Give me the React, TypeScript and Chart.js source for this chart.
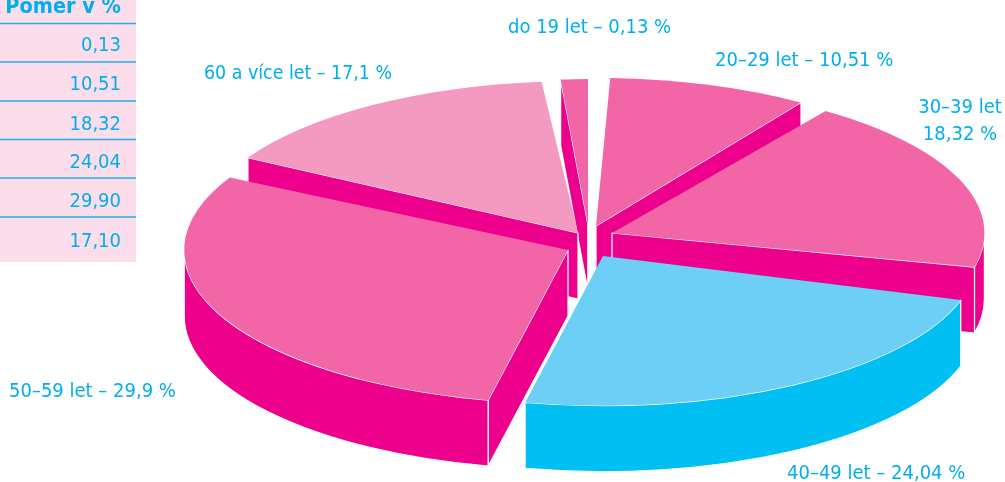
import React, { useEffect, useRef } from "react";
import { Chart, registerables } from "chart.js";

Chart.register(...registerables);

// Age groups with the percentages printed in the picture
const ageLabels = ["do 19 let – 0,13 %", "20–29 let – 10,51 %", ["30–39 let", "18,32 %"], "40–49 let – 24,04 %", "50–59 let – 29,9 %", "60 a více let – 17,1 %"];
const tableHeader = "Poměr v %";
const tableValues = ["0,13", "10,51", "18,32", "24,04", "29,90", "17,10"];
// Slice shares as drawn in the picture (the smallest slice is drawn larger than its value)
const drawnShares = [1.64, 9.22, 19.67, 24.14, 29.72, 15.61];

const topColors = ["#F266A7", "#F266A7", "#F266A7", "#6DCFF6", "#F266A7", "#F49AC1"];
const wallColors = ["#EC008C", "#EC008C", "#EC008C", "#00BFF3", "#EC008C", "#EC008C"];
const explodeX = [4, 12, 28, 19, -16, -6];
const explodeY = [-18, -17, -10, 13, 7, -10];
const radiusScale = [0.96, 0.975, 0.98, 0.985, 1.01, 1];
// Angular trim of each slice, in degrees, at its start and end
const trimStart = [0.5, 1.1, 0.7, 2, 0, 0.7];
const trimEnd = [1.1, 0.7, 1.9, 0, 0.8, 0.7];
const paintOrder = [0, 1, 5, 2, 4, 3];

const CX = 584, CY = 243, SQUASH = 0.4, DEPTH = 66, RADIUS = 380;
const TEXT = "#00AEEF";
const FONT = '"DejaVu Sans Condensed", "DejaVu Sans", sans-serif';

const labelPos: any[] = [
  { x: 508, y: 33, align: "left" },
  { x: 715, y: 66, align: "left" },
  { x: 960, y: 113, align: "center", lh: 27 },
  { x: 787, y: 479, align: "left" },
  { x: 9, y: 397, align: "left" },
  { x: 204, y: 79, align: "left", maxW: 188 },
];

const pie3d = {
  id: "pie3d",
  beforeDraw(chart: any) {
    const ctx = chart.ctx;
    ctx.save();
    ctx.fillStyle = "#FBDDEB";
    ctx.fillRect(0, 0, 136, 262);
    ctx.strokeStyle = "#1FB0EC";
    ctx.lineWidth = 1.5;
    [23.5, 62, 101, 139.5, 178, 217].forEach((y) => {
      ctx.beginPath();
      ctx.moveTo(0, y);
      ctx.lineTo(136, y);
      ctx.stroke();
    });
    ctx.fillStyle = TEXT;
    ctx.textAlign = "right";
    ctx.textBaseline = "alphabetic";
    ctx.font = `bold 21.5px ${FONT}`;
    ctx.fillText(tableHeader, 121, 13);
    ctx.font = `20px ${FONT}`;
    const base = [51, 90, 130, 168, 207, 247];
    tableValues.forEach((v, i) => ctx.fillText(v, 121, base[i]));
    ctx.restore();
  },
  beforeDatasetsDraw(chart: any) {
    const ctx = chart.ctx;
    const arcs = chart.getDatasetMeta(0).data;
    const deg = Math.PI / 180;
    const TAU = 2 * Math.PI;
    paintOrder.forEach((i) => {
      const a = arcs[i];
      const s0 = a.startAngle, e0 = a.endAngle;
      const s = s0 + trimStart[i] * deg, e = e0 - trimEnd[i] * deg;
      const rs = radiusScale[i];
      const R = a.outerRadius * rs;
      const ax = CX + explodeX[i], ay = CY + explodeY[i];
      const Ry = R * SQUASH;
      const pt = (t: number) => [ax + R * Math.cos(t), ay + Ry * Math.sin(t)];
      ctx.save();
      ctx.fillStyle = wallColors[i];
      ctx.strokeStyle = "#FFFFFF";
      ctx.lineWidth = 1.2;
      ctx.lineJoin = "round";
      const radialWall = (t: number) => {
        const p = pt(t);
        ctx.beginPath();
        ctx.moveTo(ax, ay);
        ctx.lineTo(p[0], p[1]);
        ctx.lineTo(p[0], p[1] + DEPTH);
        ctx.lineTo(ax, ay + DEPTH);
        ctx.closePath();
        ctx.fill();
        ctx.stroke();
      };
      if (Math.cos(s) < 0) radialWall(s);
      if (Math.cos(e) > 0) radialWall(e);
      // outer wall: the parts of the rim that face the viewer
      const from = ((s % TAU) + TAU) % TAU, to = from + (e - s);
      [0, TAU].forEach((base) => {
        const lo = Math.max(from, base), hi = Math.min(to, base + Math.PI);
        if (hi <= lo) return;
        ctx.beginPath();
        ctx.ellipse(ax, ay, R, Ry, 0, lo, hi, false);
        ctx.ellipse(ax, ay + DEPTH, R, Ry, 0, hi, lo, true);
        ctx.closePath();
        ctx.fill();
        ctx.stroke();
      });
      ctx.restore();
      // top face: the library's own arc element, squashed, moved and trimmed
      ctx.save();
      ctx.translate(ax, ay);
      ctx.scale(rs, SQUASH * rs);
      ctx.translate(-a.x, -a.y);
      a.startAngle = s;
      a.endAngle = e;
      a.circumference = e - s;
      a.draw(ctx);
      a.startAngle = s0;
      a.endAngle = e0;
      a.circumference = e0 - s0;
      ctx.restore();
    });
    return false;
  },
  afterDraw(chart: any) {
    const ctx = chart.ctx;
    ctx.save();
    ctx.fillStyle = TEXT;
    ctx.font = `20px ${FONT}`;
    ctx.textBaseline = "alphabetic";
    ageLabels.forEach((l: any, i) => {
      const p = labelPos[i];
      ctx.textAlign = p.align;
      const lines = Array.isArray(l) ? l : [l];
      lines.forEach((t: string, j: number) => {
        if (p.maxW) ctx.fillText(t, p.x, p.y + j * (p.lh || 0), p.maxW);
        else ctx.fillText(t, p.x, p.y + j * (p.lh || 0));
      });
    });
    ctx.restore();
  },
};

export default function App() {
  const ref = useRef<HTMLCanvasElement>(null);
  useEffect(() => {
    const chart = new Chart(ref.current as HTMLCanvasElement, {
      type: "pie",
      data: {
        labels: ageLabels.map((l: any) => (Array.isArray(l) ? l.join(" – ") : l)),
        datasets: [
          {
            data: drawnShares,
            backgroundColor: topColors,
            borderWidth: 0,
            hoverOffset: 0,
          },
        ],
      },
      options: {
        animation: false,
        responsive: false,
        rotation: -4.8,
        radius: RADIUS,
        events: [],
        plugins: { legend: { display: false }, tooltip: { enabled: false } },
      } as any,
      plugins: [pie3d],
    });
    return () => chart.destroy();
  }, []);
  return (
    <div style={{ position: "fixed", left: 0, top: 0, width: 1005, height: 482, background: "#fff" }}>
      <canvas ref={ref} width={1005} height={482} style={{ display: "block" }} />
    </div>
  );
}
